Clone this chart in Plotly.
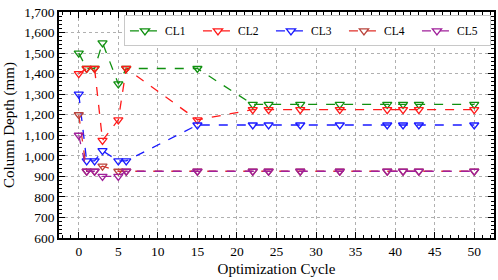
import plotly.graph_objects as go

cycles = [0, 1, 2, 3, 5, 6, 15, 22, 24, 28, 33, 39, 41, 43, 50]
cl1 = [1500, 1425, 1425, 1550, 1350, 1425, 1425, 1250, 1250, 1250, 1250, 1250, 1250, 1250, 1250]
cl2 = [1400, 1425, 1425, 1075, 1175, 1425, 1175, 1225, 1225, 1225, 1225, 1225, 1225, 1225, 1225]
cl3 = [1300, 975, 975, 1025, 975, 975, 1150, 1150, 1150, 1150, 1150, 1150, 1150, 1150, 1150]
cl4 = [1200, 925, 925, 950, 925, 925, 925, 925, 925, 925, 925, 925, 925, 925, 925]
cl5 = [1100, 925, 925, 900, 900, 925, 925, 925, 925, 925, 925, 925, 925, 925, 925]

series = [
    ("CL1", cl1, "#109010", "#109010"),
    ("CL2", cl2, "#ff1a1a", "#ff1a1a"),
    ("CL3", cl3, "#1a1aff", "#1a1aff"),
    ("CL4", cl4, "#e0302a", "#b8443c"),
    ("CL5", cl5, "#a0209a", "#a0209a"),
]

fig = go.Figure()
for name, vals, lc, mc in series:
    fig.add_trace(go.Scatter(
        x=cycles, y=vals, name=name, mode="lines+markers",
        line=dict(color=lc, width=1.3, dash="dash"),
        marker=dict(symbol="triangle-down-open", size=8, color=mc, line=dict(width=1.3, color=mc)),
    ))

font = "Liberation Serif, Times New Roman, DejaVu Serif, serif"
axis_common = dict(
    showline=True, linecolor="black", linewidth=1.5, mirror="allticks",
    ticks="inside", ticklen=6, tickwidth=1.2, tickcolor="black",
    showgrid=True, gridcolor="#b0b0b0", griddash="dot", gridwidth=1,
    zeroline=False, tickfont=dict(family=font, size=13.5, color="black"),
    automargin=False,
)

fig.update_xaxes(
    range=[-2.5, 52.5], dtick=5, tick0=0,
    title=dict(text="Optimization Cycle", font=dict(family=font, size=15, color="black"), standoff=6),
    minor=dict(ticks="inside", dtick=1, ticklen=3, tickcolor="black", tickwidth=1, showgrid=False),
    **axis_common,
)
fig.update_yaxes(
    range=[600, 1700], dtick=100, tickformat=",d",
    title=dict(text="Column Depth (mm)", font=dict(family=font, size=15, color="black"), standoff=6),
    minor=dict(ticks="inside", dtick=20, ticklen=3, tickcolor="black", tickwidth=1, showgrid=False),
    **axis_common,
)

fig.update_layout(
    width=498, height=280,
    margin=dict(l=59, r=4, t=12, b=42),
    plot_bgcolor="white", paper_bgcolor="white",
    font=dict(family=font, size=13, color="black"),
    legend=dict(
        orientation="h", x=0.993, xanchor="right", y=0.985, yanchor="top",
        bgcolor="white", bordercolor="#c8c8c8", borderwidth=1,
        font=dict(family=font, size=11.5, color="black"),
        entrywidth=28, entrywidthmode="pixels", itemwidth=30, tracegroupgap=0,
    ),
)

fig.write_html("out.html", config={"displayModeBar": False},
               post_script="document.body.style.margin='0';document.body.style.padding='0';")
